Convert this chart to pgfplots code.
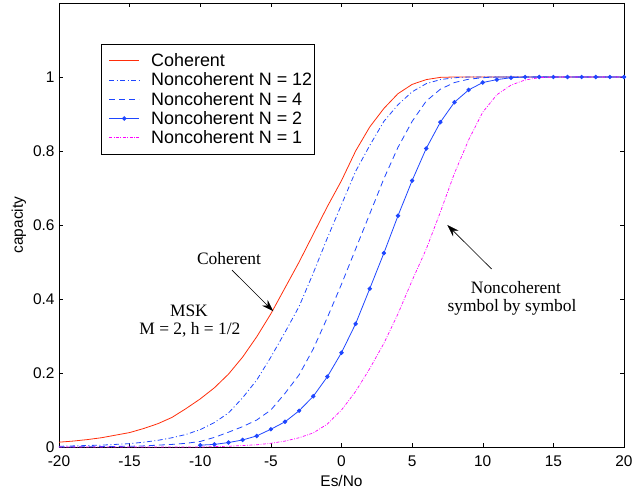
\documentclass[border=0pt]{standalone}
\usepackage{fontspec}
\setmainfont{Liberation Serif}
\setsansfont{Liberation Sans}
\usepackage{pgfplots}
\pgfplotsset{compat=1.18}
\usetikzlibrary{arrows.meta,calc}

\definecolor{cohred}{RGB}{255,45,10}
\definecolor{ncblue}{RGB}{30,70,255}
\definecolor{ncmag}{RGB}{255,0,255}

\begin{document}
\begin{tikzpicture}
\begin{axis}[
  name=ax,
  width=565bp, height=444bp, scale only axis,
  xmin=-20, xmax=20, ymin=0, ymax=1.2,
  xtick={-20,-15,-10,-5,0,5,10,15,20},
  xticklabels={-20,-15,-10,-5,0,5,10,15,20},
  ytick={0,0.2,0.4,0.6,0.8,1},
  yticklabels={0,0.2,0.4,0.6,0.8,1},
  tick label style={font=\sffamily\fontsize{15.5}{18}\selectfont},
  xticklabel style={yshift=-5bp},
  yticklabel style={xshift=-1bp},
  label style={font=\sffamily\fontsize{15.5}{18}\selectfont},
  xlabel={Es/No}, ylabel={capacity},
  xlabel style={yshift=-2bp},
  major tick length=4bp,
  tick style={black, line width=0.5pt},
  axis line style={line width=0.6pt},
  legend cell align=left,
  legend style={at={(rel axis cs:0.0738,0.9077)}, anchor=north west,
    draw=black, line width=1pt, inner xsep=0bp, inner ysep=7bp,
    row sep=0.8bp,
    font=\sffamily\fontsize{18}{21}\selectfont},
  legend image code/.code={\path[draw=none] (-8bp,0bp) -- (40bp,0bp);
    \draw[mark repeat=2,mark phase=2,#1]
    plot coordinates {(0bp,0bp) (15bp,0bp) (30bp,0bp)};},
]
% coherent
\addplot[cohred, line width=0.8pt] coordinates {
(-20,0.013) (-19,0.016) (-18,0.020) (-17,0.025) (-16,0.032) (-15,0.039)
(-14,0.050) (-13,0.063) (-12,0.080) (-11,0.104) (-10,0.130) (-9,0.160)
(-8,0.197) (-7,0.243) (-6,0.298) (-5,0.360) (-4,0.430) (-3,0.500)
(-2,0.575) (-1,0.650) (0,0.720) (1,0.800) (2,0.865) (3,0.915)
(4,0.955) (5,0.980) (6,0.993) (7,0.999) (8,1) (20,1)};
% N = 12
\addplot[ncblue, line width=0.8pt, dash pattern=on 5bp off 2.5bp on 1bp off 2.5bp] coordinates {
(-20,0.002) (-19,0.003) (-18,0.004) (-17,0.005) (-16,0.007) (-15,0.009)
(-14,0.013) (-13,0.018) (-12,0.025) (-11,0.034) (-10,0.047) (-9,0.066)
(-8,0.092) (-7,0.133) (-6,0.181) (-5,0.243) (-4,0.310) (-3,0.380)
(-2,0.470) (-1,0.565) (0,0.655) (1,0.745) (2,0.815) (3,0.880)
(4,0.925) (5,0.960) (6,0.982) (7,0.993) (8,0.998) (9,1) (20,1)};
% N = 4
\addplot[ncblue, line width=0.8pt, dash pattern=on 6bp off 4bp] coordinates {
(-20,0.000) (-17,0.001) (-15,0.002) (-14,0.003) (-13,0.005) (-12,0.007)
(-11,0.010) (-10,0.015) (-9,0.026) (-8,0.040) (-7,0.055) (-6,0.073)
(-5,0.100) (-4,0.145) (-3,0.195) (-2,0.265) (-1,0.350) (0,0.440)
(1,0.535) (2,0.630) (3,0.725) (4,0.810) (5,0.880) (6,0.935)
(7,0.967) (8,0.985) (9,0.994) (10,0.998) (11,1) (20,1)};
% N = 2
\addplot[ncblue, line width=0.8pt, mark=*, mark size=1.8bp] coordinates {
(-10,0.005) (-9,0.007) (-8,0.012) (-7,0.019) (-6,0.030) (-5,0.048)
(-4,0.068) (-3,0.098) (-2,0.137) (-1,0.190) (0,0.255) (1,0.333)
(2,0.428) (3,0.524) (4,0.625) (5,0.720) (6,0.807) (7,0.878)
(8,0.932) (9,0.965) (10,0.985) (11,0.993) (12,0.998) (13,1) (14,1)
(15,1) (16,1) (17,1) (18,1) (19,1) (20,1)};
% N = 1
\addplot[ncmag, line width=0.7pt, dash pattern=on 3bp off 1.5bp on 0.8bp off 1.5bp] coordinates {
(-20,0.000) (-10,0.000) (-9,0.001) (-8,0.002) (-7,0.004) (-6,0.006)
(-5,0.010) (-4,0.016) (-3,0.025) (-2,0.038) (-1,0.062) (0,0.100)
(1,0.150) (2,0.212) (3,0.280) (4,0.360) (5,0.450) (6,0.535)
(7,0.635) (8,0.740) (9,0.830) (10,0.905) (11,0.952) (12,0.978)
(13,0.992) (14,0.998) (15,1) (20,1)};
\legend{Coherent, Noncoherent N = 12, Noncoherent N = 4, Noncoherent N = 2, Noncoherent N = 1}

\node[font=\rmfamily\fontsize{17.5}{20}\selectfont] at (axis cs:-7.96,0.51) {Coherent};
\draw[-{Stealth[length=12bp,width=8bp]}, line width=0.6pt] (axis cs:-7.75,0.478) -- (axis cs:-4.83,0.367);
\node[font=\rmfamily\fontsize{17.5}{20}\selectfont] at (axis cs:-10.8,0.368) {MSK};
\node[font=\rmfamily\fontsize{17.5}{20}\selectfont] at (axis cs:-10.73,0.318) {M = 2, h = 1/2};
\node[font=\rmfamily\fontsize{17.5}{20}\selectfont] at (axis cs:12.35,0.432) {Noncoherent};
\node[font=\rmfamily\fontsize{17.5}{20}\selectfont] at (axis cs:12.07,0.378) {symbol by symbol};
\draw[-{Stealth[length=12bp,width=8bp]}, line width=0.6pt] (axis cs:10.63,0.481) -- (axis cs:7.49,0.60);
\end{axis}
\pgfresetboundingbox
\path ($(ax.south west)+(-59bp,-46bp)$) rectangle ($(ax.north east)+(9bp,3bp)$);
\end{tikzpicture}
\end{document}
